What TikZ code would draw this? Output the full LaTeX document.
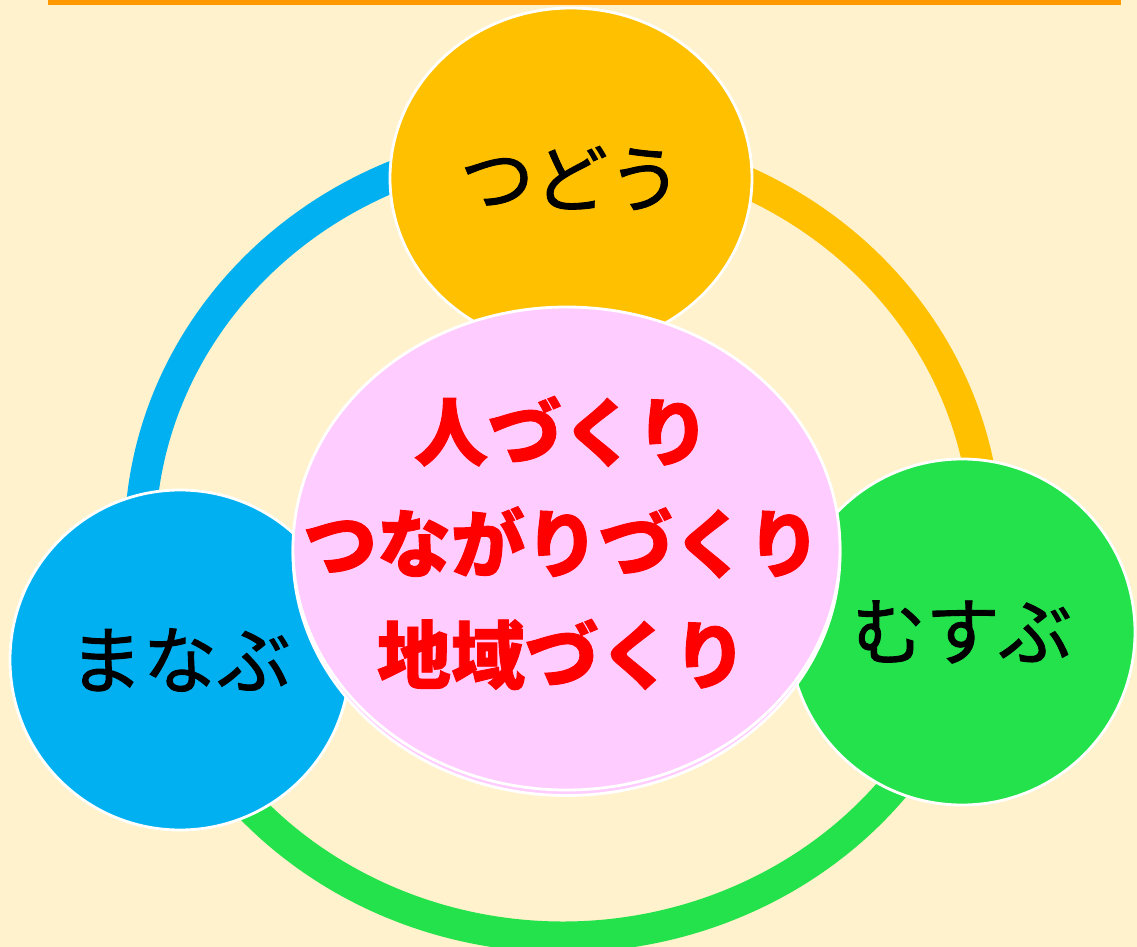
\documentclass[tikz,border=0pt]{standalone}
\usepackage{fontspec}
\newfontfamily\jpfont[FakeBold=1.2]{Noto Sans CJK JP}
\newfontfamily\jpheavy[BoldFeatures={FakeBold=1.2}]{Noto Sans CJK JP}
\usetikzlibrary{shapes.geometric}
\definecolor{bgcol}{HTML}{FFF2CC}
\definecolor{toplinecol}{HTML}{FF9900}
\definecolor{orangecol}{HTML}{FFC000}
\definecolor{bluecol}{HTML}{00B0F0}
\definecolor{greencol}{HTML}{23E24B}
\definecolor{pinkcol}{HTML}{FFCCFF}
\definecolor{redcol}{HTML}{FF0000}
\tikzset{
  ringband/.style={line width=15.5pt, line cap=butt},
  bubble/.style={ellipse, draw=white, line width=1.4pt, inner sep=0pt,
    font=\jpfont\fontsize{37pt}{44pt}\selectfont, text=black},
  core/.style={ellipse, draw=white, line width=1.4pt, inner sep=0pt, fill=pinkcol,
    minimum width=273.5pt, minimum height=241.5pt},
  coretext/.style={align=center, text=redcol,
    font=\jpheavy\bfseries\fontsize{37pt}{55.75pt}\selectfont}
}
\begin{document}
\begin{tikzpicture}[x=0.5pt,y=-0.5pt]
\fill[bgcol] (0,0) rectangle (1137,947);
\useasboundingbox (0,0) rectangle (1137,947);
\clip (0,0) rectangle (1137,947);
\fill[toplinecol] (48,0) rectangle (1121,5.5);

\coordinate (ring) at (563,540);
\draw[ringband, draw=bluecol] ([shift={(183:423 and 397)}]ring)
  arc[start angle=183, end angle=250, x radius=423, y radius=397];
\draw[ringband, draw=orangecol] ([shift={(293:423 and 397)}]ring)
  arc[start angle=293, end angle=352, x radius=423, y radius=397];
\draw[ringband, draw=greencol] ([shift={(37:423 and 397)}]ring)
  arc[start angle=37, end angle=138, x radius=423, y radius=397];

\node[bubble, fill=orangecol, minimum width=181pt, minimum height=170pt] (tsudou) at (571,178) {つどう};
\node[bubble, fill=bluecol, minimum width=170pt, minimum height=170pt] (manabu) at (180,660) {まなぶ};
\node[bubble, fill=greencol, minimum width=173pt, minimum height=173pt] (musubu) at (962,632) {むすぶ};

\node[core] (coreshadow) at (566.5,554) {};
\node[core] (center) at (566.5,548.5) {};
\node[coretext] (centertext) at (562,543) {人づくり\\つながりづくり\\地域づくり};
\end{tikzpicture}
\end{document}
